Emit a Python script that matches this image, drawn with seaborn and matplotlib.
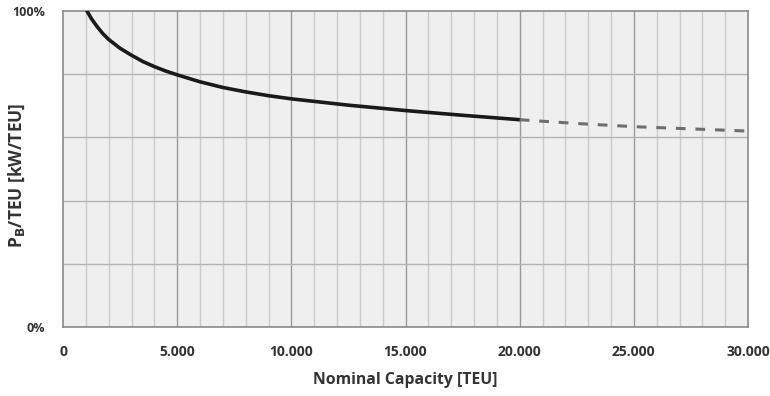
import numpy as np
import pandas as pd
import matplotlib
matplotlib.use("Agg")
import matplotlib.pyplot as plt
import seaborn as sns
from matplotlib.ticker import FixedLocator, FuncFormatter

# values
cap_known = [1050, 1250, 1500, 1750, 2000, 2500, 3000, 3500, 4000, 4500, 5000,
             6000, 7000, 8000, 9000, 10000, 12500, 15000, 17500, 20000]
pb_known = [100.0, 97.5, 95.0, 92.8, 91.0, 88.2, 86.0, 84.0, 82.4, 81.0, 79.8,
            77.6, 75.8, 74.4, 73.2, 72.2, 70.2, 68.5, 67.0, 65.6]
cap_extrap = [20000, 22500, 25000, 27500, 30000]
pb_extrap = [65.6, 64.4, 63.4, 62.7, 62.0]
x_ticks = [0, 5000, 10000, 15000, 20000, 25000, 30000]

df = pd.concat([
    pd.DataFrame({"cap": cap_known, "pb": pb_known, "seg": "known"}),
    pd.DataFrame({"cap": cap_extrap, "pb": pb_extrap, "seg": "extrap"}),
])

sns.set_theme(style="white")
plt.rcParams["font.family"] = ["Open Sans", "DejaVu Sans"]

fig = plt.figure(figsize=(7.7, 3.96), dpi=100)
ax = fig.add_axes([63 / 770, 1 - 327 / 396, (748 - 63) / 770, (327 - 11) / 396])
ax.set_facecolor("#efefef")

# grid: minor every 1000 TEU, major every 5000, horizontal every 20%
for xv in range(1000, 30000, 1000):
    col = "#9a9a9a" if xv % 5000 == 0 else "#cbcbcb"
    ax.axvline(xv, color=col, lw=1.0, zorder=1)
for yv in range(20, 100, 20):
    ax.axhline(yv, color="#b3b3b3", lw=1.0, zorder=1)

sns.lineplot(data=df[df.seg == "known"], x="cap", y="pb", ax=ax,
             color="#1a1a1a", lw=2.6, zorder=3, sort=False)
sns.lineplot(data=df[df.seg == "extrap"], x="cap", y="pb", ax=ax,
             color="#6e6e6e", lw=2.2, zorder=3, sort=False,
             linestyle=(0, (3.2, 3.2)))

ax.set_xlim(0, 30000)
ax.set_ylim(0, 100)
ax.xaxis.set_major_locator(FixedLocator(x_ticks))
ax.xaxis.set_major_formatter(FuncFormatter(lambda v, p: f"{int(v):,}".replace(",", ".")))
ax.yaxis.set_major_locator(FixedLocator([0, 100]))
ax.yaxis.set_major_formatter(FuncFormatter(lambda v, p: f"{int(v)}%"))
ax.tick_params(axis="x", length=0, pad=13, labelsize=10, labelcolor="#333333")
ax.tick_params(axis="y", length=0, pad=13, labelsize=9, labelcolor="#333333")
for lbl in ax.get_xticklabels() + ax.get_yticklabels():
    lbl.set_fontweight("bold")

for sp in ax.spines.values():
    sp.set_visible(True)
    sp.set_color("#8a8a8a")
    sp.set_linewidth(1.2)

ax.set_xlabel("Nominal Capacity [TEU]", fontsize=11.3, fontweight="bold",
              color="#333333")
ax.xaxis.set_label_coords(0.5, (327 - 372) / 316)
ax.set_ylabel(r"P$_{\mathbf{B}}$/TEU [kW/TEU]", fontsize=12.5, fontweight="bold",
              color="#333333")
ax.yaxis.set_label_coords((27 - 63) / 685, (327 - 175) / 316)

fig.savefig("out.png", dpi=100)
